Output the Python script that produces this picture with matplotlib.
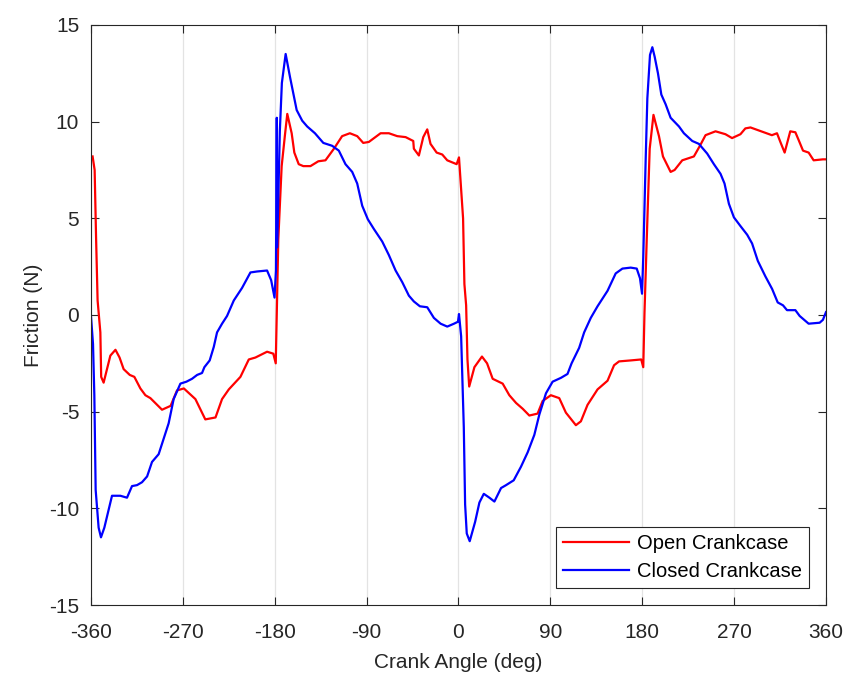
import matplotlib
matplotlib.use("Agg")
import matplotlib.pyplot as plt

plt.rcParams['font.family'] = ['Liberation Sans', 'DejaVu Sans']
plt.rcParams['axes.unicode_minus'] = False

# Open crankcase friction (red)
open_angle = [-358.4, -356.4, -355.0, -353.5, -350.8, -350.0, -347.6, -341.0, -336.0, -332.0,
              -328.0, -322.0, -317.5, -311.6, -306.7, -301.8, -290.4, -282.0, -275.7, -269.0,
              -257.7, -248.0, -238.0, -231.6, -225.0, -213.6, -205.4, -198.9, -187.5, -181.4,
              -179.0, -176.5, -173.2, -170.0, -167.7, -163.4, -160.8, -156.5, -152.0, -145.0,
              -137.3, -130.3, -122.0, -114.0, -106.4, -99.2, -93.3, -87.8, -76.3, -68.2,
              -60.0, -51.8, -44.3, -43.7, -38.8, -34.5, -30.6, -27.4, -21.4, -15.9,
              -11.0, -1.8, 0.5, 4.5, 5.8, 7.5, 8.8, 10.5, 15.6, 23.0,
              28.0, 33.5, 43.3, 49.8, 56.4, 62.9, 69.4, 77.5, 82.4, 90.5,
              98.7, 105.2, 115.0, 119.9, 126.4, 136.2, 146.0, 152.4, 157.3, 168.7,
              179.0, 181.0, 182.2, 184.4, 187.3, 191.0, 196.4, 200.3, 207.8, 211.7,
              219.2, 230.6, 236.5, 242.0, 251.8, 261.5, 268.0, 276.2, 281.0, 286.0,
              307.0, 312.0, 315.3, 319.5, 325.0, 330.0, 333.2, 337.5, 343.0, 347.9,
              357.0, 360.0]
open_friction = [8.2, 7.5, 4.0, 0.75, -0.9, -3.2, -3.5, -2.1, -1.8, -2.2,
                 -2.8, -3.1, -3.2, -3.8, -4.15, -4.3, -4.9, -4.7, -3.9, -3.8,
                 -4.35, -5.4, -5.3, -4.35, -3.85, -3.2, -2.3, -2.2, -1.9, -2.0,
                 -2.5, 3.9, 7.7, 9.3, 10.4, 9.4, 8.4, 7.8, 7.7, 7.7,
                 7.95, 8.0, 8.6, 9.25, 9.4, 9.25, 8.9, 8.95, 9.4, 9.4,
                 9.25, 9.2, 9.0, 8.6, 8.25, 9.2, 9.6, 8.85, 8.4, 8.3,
                 8.0, 7.8, 8.15, 5.0, 1.6, 0.5, -2.3, -3.7, -2.7, -2.15,
                 -2.5, -3.3, -3.55, -4.15, -4.55, -4.85, -5.2, -5.1, -4.45, -4.15,
                 -4.3, -5.05, -5.7, -5.5, -4.65, -3.85, -3.4, -2.6, -2.4, -2.35,
                 -2.3, -2.7, 0.1, 3.9, 8.6, 10.35, 9.25, 8.2, 7.4, 7.5,
                 8.0, 8.2, 8.75, 9.3, 9.5, 9.35, 9.15, 9.35, 9.65, 9.7,
                 9.3, 9.4, 8.95, 8.4, 9.5, 9.45, 9.05, 8.5, 8.4, 8.0,
                 8.05, 8.05]

# Closed crankcase friction (blue)
closed_angle = [-360.0, -358.0, -356.7, -355.4, -352.5, -350.2, -346.9, -343.7, -339.4, -331.2,
                -324.7, -319.8, -314.9, -310.0, -305.0, -300.2, -293.7, -288.8, -283.9, -279.0,
                -272.4, -266.5, -261.0, -256.0, -251.2, -248.9, -243.7, -239.7, -236.5, -231.6,
                -226.7, -220.1, -212.0, -203.8, -197.3, -187.5, -183.5, -180.2, -178.8, -178.0,
                -177.6, -175.0, -173.0, -169.3, -165.0, -158.5, -153.1, -148.2, -140.6, -132.4,
                -123.7, -117.2, -110.7, -104.1, -99.2, -94.3, -88.8, -82.9, -74.7, -68.2,
                -61.6, -55.1, -48.6, -43.7, -37.8, -30.6, -24.1, -17.5, -11.0, -4.4,
                -0.5, 0.5, 2.6, 5.2, 6.5, 8.1, 11.0, 16.3, 20.5, 24.8,
                30.3, 35.2, 41.7, 46.6, 54.1, 61.2, 67.8, 74.3, 79.2, 85.7,
                92.2, 100.4, 106.8, 110.8, 118.2, 123.1, 129.6, 136.2, 146.0, 154.0,
                160.6, 168.7, 174.6, 177.8, 179.8, 181.0, 183.4, 185.0, 187.6, 189.9,
                192.2, 195.4, 198.7, 202.9, 207.8, 216.0, 220.8, 229.0, 235.5, 243.6,
                250.2, 256.7, 260.6, 264.9, 269.8, 276.2, 282.8, 287.6, 293.2, 300.6,
                307.2, 312.7, 317.9, 321.8, 330.0, 334.2, 343.0, 353.8, 357.0, 360.0]
closed_friction = [-0.05, -1.5, -4.15, -9.05, -11.0, -11.5, -11.0, -10.3, -9.35, -9.35,
                   -9.45, -8.85, -8.8, -8.65, -8.35, -7.6, -7.2, -6.4, -5.6, -4.35,
                   -3.55, -3.45, -3.3, -3.1, -3.0, -2.7, -2.35, -1.65, -0.9, -0.45,
                   -0.05, 0.75, 1.4, 2.2, 2.25, 2.3, 1.8, 0.9, 2.3, 10.2,
                   3.5, 9.5, 12.0, 13.5, 12.3, 10.6, 10.05, 9.75, 9.4, 8.9,
                   8.75, 8.5, 7.8, 7.4, 6.8, 5.65, 4.95, 4.45, 3.8, 3.1,
                   2.3, 1.7, 1.0, 0.7, 0.45, 0.4, -0.15, -0.45, -0.6, -0.45,
                   -0.35, 0.05, -1.1, -5.8, -9.8, -11.3, -11.7, -10.7, -9.7, -9.25,
                   -9.45, -9.65, -8.95, -8.8, -8.55, -7.85, -7.1, -6.2, -5.15, -4.05,
                   -3.45, -3.25, -3.05, -2.5, -1.7, -0.9, -0.15, 0.45, 1.25, 2.15,
                   2.4, 2.45, 2.4, 1.9, 1.1, 3.0, 8.1, 11.2, 13.45, 13.85,
                   13.35, 12.5, 11.4, 10.9, 10.2, 9.75, 9.4, 9.0, 8.85, 8.35,
                   7.8, 7.3, 6.8, 5.75, 5.05, 4.6, 4.15, 3.7, 2.8, 2.0,
                   1.35, 0.65, 0.5, 0.25, 0.25, -0.05, -0.45, -0.4, -0.25, 0.15]

x_ticks = [-360, -270, -180, -90, 0, 90, 180, 270, 360]
y_ticks = [-15, -10, -5, 0, 5, 10, 15]

dark = '#262626'

fig = plt.figure(figsize=(8.47, 6.75), dpi=100)
ax = fig.add_axes([0.1074, 0.1037, 0.8678, 0.8593])

ax.plot(open_angle, open_friction, color='#ff0000', linewidth=1.6, label='Open Crankcase')
ax.plot(closed_angle, closed_friction, color='#0000ff', linewidth=1.6, label='Closed Crankcase')

ax.set_xlim(-360, 360)
ax.set_ylim(-15, 15)
ax.set_xticks(x_ticks)
ax.set_yticks(y_ticks)
ax.xaxis.grid(True, color='#e3e3e3', linewidth=0.9)
ax.set_axisbelow(True)

ax.tick_params(direction='in', length=6, width=0.8, colors=dark, labelsize=15,
               top=True, right=True)
ax.tick_params(axis='x', pad=13)
ax.tick_params(axis='y', pad=8.5)
for s in ax.spines.values():
    s.set_color(dark)
    s.set_linewidth(0.8)

ax.set_xlabel('Crank Angle (deg)', fontsize=15, color=dark, labelpad=8)
ax.set_ylabel('Friction (N)', fontsize=15, color=dark, labelpad=4)

leg = ax.legend(loc='lower right', fontsize=14.5, fancybox=False, framealpha=1,
                edgecolor=dark, borderaxespad=0.85, handlelength=3.3,
                borderpad=0.35, labelspacing=0.45, handletextpad=0.37)
leg.get_frame().set_linewidth(0.8)

fig.savefig('out.png', dpi=100)
